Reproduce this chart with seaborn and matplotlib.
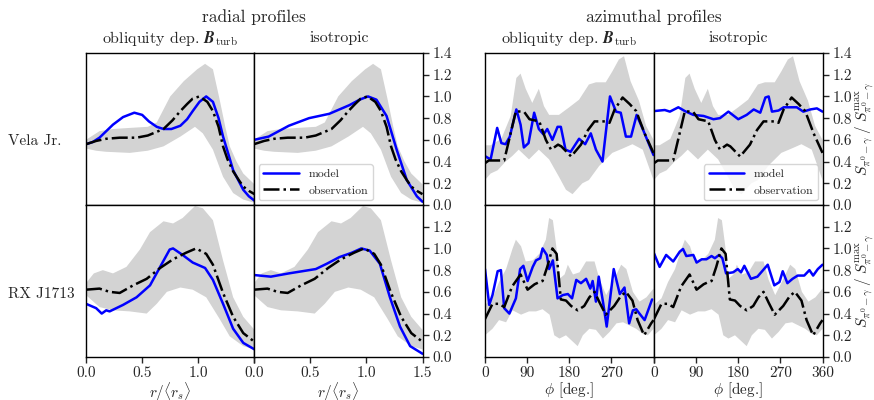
import matplotlib
matplotlib.use("Agg")
import matplotlib.pyplot as plt
import seaborn as sns

# ---- radial profiles, Vela Jr. ----
r_vela_obs = [0.0, 0.09, 0.18, 0.30, 0.45, 0.55, 0.62, 0.69, 0.77, 0.84, 0.90, 0.95, 1.01, 1.08, 1.13, 1.18, 1.22, 1.26, 1.31, 1.36, 1.40, 1.45, 1.50]
vela_obs = [0.56, 0.59, 0.61, 0.62, 0.62, 0.64, 0.67, 0.70, 0.78, 0.865, 0.93, 0.98, 1.0, 0.95, 0.865, 0.72, 0.54, 0.42, 0.31, 0.23, 0.17, 0.13, 0.10]
r_vela_hi = [0.0, 0.06, 0.12, 0.24, 0.39, 0.55, 0.63, 0.69, 0.75, 0.87, 0.99, 1.06, 1.13, 1.19, 1.24, 1.28, 1.34, 1.40, 1.50]
vela_hi = [0.60, 0.64, 0.68, 0.70, 0.71, 0.72, 0.76, 0.88, 1.00, 1.14, 1.25, 1.30, 1.25, 0.97, 0.72, 0.54, 0.40, 0.29, 0.19]
r_vela_lo = [0.0, 0.09, 0.18, 0.39, 0.55, 0.69, 0.84, 0.97, 1.04, 1.13, 1.22, 1.31, 1.40, 1.50]
vela_lo = [0.52, 0.50, 0.49, 0.48, 0.50, 0.54, 0.63, 0.72, 0.66, 0.51, 0.26, 0.11, 0.05, 0.02]
r_vela_obl = [0.0, 0.06, 0.12, 0.24, 0.33, 0.43, 0.50, 0.56, 0.63, 0.69, 0.76, 0.84, 0.90, 0.95, 1.01, 1.07, 1.13, 1.18, 1.22, 1.27, 1.31, 1.36, 1.40, 1.45, 1.50]
vela_obl = [0.56, 0.58, 0.62, 0.74, 0.81, 0.85, 0.83, 0.77, 0.72, 0.70, 0.70, 0.73, 0.79, 0.865, 0.95, 1.0, 0.95, 0.80, 0.63, 0.46, 0.32, 0.22, 0.14, 0.08, 0.04]
r_vela_iso = [0.0, 0.13, 0.22, 0.31, 0.49, 0.67, 0.85, 0.94, 1.015, 1.09, 1.18, 1.27, 1.36, 1.45, 1.50]
vela_iso = [0.60, 0.63, 0.68, 0.73, 0.80, 0.84, 0.92, 0.97, 1.0, 0.97, 0.82, 0.51, 0.23, 0.08, 0.03]

# ---- radial profiles, RX J1713 ----
r_rx_obs = [0.0, 0.12, 0.21, 0.30, 0.42, 0.54, 0.66, 0.775, 0.89, 0.98, 1.07, 1.13, 1.22, 1.31, 1.40, 1.50]
rx_obs = [0.62, 0.63, 0.60, 0.59, 0.66, 0.72, 0.82, 0.90, 0.96, 1.0, 0.95, 0.85, 0.59, 0.37, 0.22, 0.14]
r_rx_hi = [0.0, 0.07, 0.15, 0.24, 0.36, 0.48, 0.57, 0.69, 0.775, 0.86, 0.97, 1.04, 1.13, 1.22, 1.31, 1.40, 1.50]
rx_hi = [0.68, 0.77, 0.80, 0.77, 0.83, 0.99, 1.15, 1.25, 1.23, 1.28, 1.39, 1.37, 1.26, 0.89, 0.55, 0.37, 0.25]
r_rx_lo = [0.0, 0.12, 0.24, 0.39, 0.54, 0.63, 0.72, 0.84, 0.95, 1.07, 1.19, 1.28, 1.40, 1.50]
rx_lo = [0.57, 0.46, 0.43, 0.42, 0.40, 0.49, 0.60, 0.64, 0.62, 0.55, 0.35, 0.19, 0.10, 0.07]
r_rx_obl = [0.0, 0.09, 0.14, 0.18, 0.21, 0.33, 0.45, 0.57, 0.66, 0.745, 0.775, 0.86, 0.95, 1.06, 1.13, 1.22, 1.31, 1.40, 1.50]
rx_obl = [0.49, 0.45, 0.40, 0.43, 0.42, 0.48, 0.55, 0.66, 0.83, 0.99, 1.0, 0.94, 0.87, 0.82, 0.71, 0.49, 0.26, 0.13, 0.07]
r_rx_iso = [0.0, 0.15, 0.31, 0.55, 0.65, 0.76, 0.87, 0.955, 1.03, 1.12, 1.21, 1.30, 1.39, 1.50]
rx_iso = [0.755, 0.74, 0.77, 0.81, 0.86, 0.92, 0.96, 1.0, 0.98, 0.86, 0.55, 0.28, 0.10, 0.03]

# ---- azimuthal profiles, Vela Jr. ----
phi_vela_obs = [0, 8, 41, 66, 84, 95, 116, 130, 141, 156, 163, 184, 205, 220, 234, 259, 266, 277, 294, 309, 323, 341, 360]
az_vela_obs = [0.385, 0.41, 0.41, 0.865, 0.856, 0.79, 0.77, 0.60, 0.51, 0.556, 0.54, 0.447, 0.556, 0.69, 0.77, 0.77, 0.757, 0.88, 0.99, 0.93, 0.865, 0.66, 0.48]
phi_vela_hi = [0, 12, 35, 55, 67, 76, 87, 101, 115, 126, 137, 158, 180, 201, 222, 237, 258, 272, 286, 297, 311, 329, 344, 360]
az_vela_hi = [0.55, 0.55, 0.61, 0.82, 1.17, 1.21, 1.07, 0.94, 1.07, 0.91, 0.83, 0.83, 0.90, 0.97, 1.11, 1.13, 1.13, 1.23, 1.34, 1.37, 1.14, 0.96, 0.73, 0.60]
phi_vela_lo = [0, 12, 27, 44, 58, 72, 94, 115, 137, 158, 173, 187, 208, 222, 244, 272, 294, 315, 337, 360]
az_vela_lo = [0.23, 0.29, 0.32, 0.40, 0.45, 0.51, 0.42, 0.51, 0.42, 0.26, 0.14, 0.10, 0.20, 0.23, 0.36, 0.48, 0.52, 0.56, 0.51, 0.23]
phi_vela_obl = [0, 12, 26, 35, 44, 53, 67, 76, 83, 93, 105, 115, 125, 133, 144, 155, 162, 172, 183, 201, 214, 226, 237, 251, 267, 280, 290, 301, 312, 324, 337, 360]
az_vela_obl = [0.45, 0.42, 0.71, 0.57, 0.56, 0.63, 0.88, 0.74, 0.53, 0.57, 0.85, 0.70, 0.65, 0.70, 0.60, 0.72, 0.72, 0.51, 0.49, 0.61, 0.56, 0.66, 0.51, 0.40, 1.0, 0.86, 0.85, 0.63, 0.63, 0.83, 0.70, 0.46]
phi_vela_iso = [0, 23, 34, 52, 66, 84, 106, 127, 141, 159, 180, 198, 213, 227, 238, 245, 252, 266, 277, 305, 319, 334, 348, 360]
az_vela_iso = [0.865, 0.875, 0.86, 0.90, 0.865, 0.83, 0.82, 0.79, 0.80, 0.86, 0.79, 0.83, 0.88, 0.85, 0.99, 1.0, 0.86, 0.87, 0.90, 0.90, 0.86, 0.88, 0.89, 0.86]

# ---- azimuthal profiles, RX J1713 ----
phi_rx_obs = [0, 16, 30, 41, 58, 76, 91, 106, 116, 123, 133, 144, 153, 162, 173, 184, 198, 212, 223, 234, 245, 258, 276, 290, 301, 315, 326, 340, 355, 360]
az_rx_obs = [0.35, 0.49, 0.49, 0.46, 0.65, 0.76, 0.62, 0.67, 0.69, 0.70, 0.83, 1.0, 0.95, 0.53, 0.52, 0.47, 0.43, 0.47, 0.55, 0.60, 0.50, 0.39, 0.47, 0.56, 0.60, 0.52, 0.34, 0.20, 0.31, 0.34]
phi_rx_hi = [0, 16, 30, 45, 59, 66, 77, 87, 102, 116, 130, 137, 145, 152, 159, 170, 177, 188, 202, 216, 234, 245, 259, 273, 291, 302, 316, 330, 345, 360]
az_rx_hi = [0.48, 0.54, 0.69, 0.81, 1.0, 1.08, 1.02, 0.88, 0.89, 0.95, 1.08, 1.28, 1.26, 1.03, 0.72, 0.76, 0.85, 0.76, 0.78, 0.88, 0.88, 0.71, 0.57, 0.69, 0.85, 0.81, 0.60, 0.51, 0.55, 0.63]
phi_rx_lo = [0, 16, 30, 45, 59, 77, 94, 109, 123, 138, 148, 159, 173, 188, 198, 209, 223, 237, 252, 266, 281, 295, 309, 323, 338, 348, 360]
az_rx_lo = [0.20, 0.26, 0.34, 0.32, 0.43, 0.39, 0.42, 0.42, 0.44, 0.39, 0.20, 0.17, 0.20, 0.14, 0.10, 0.20, 0.26, 0.25, 0.17, 0.23, 0.31, 0.32, 0.29, 0.26, 0.21, 0.20, 0.26]
phi_rx_obl = [0, 9, 16, 27, 34, 41, 52, 66, 75, 82, 91, 102, 109, 118, 123, 132, 137, 145, 155, 166, 177, 186, 195, 205, 216, 225, 230, 237, 243, 252, 260, 275, 288, 298, 308, 316, 323, 330, 341, 357]
az_rx_obl = [0.81, 0.48, 0.57, 0.79, 0.80, 0.45, 0.40, 0.54, 0.81, 0.84, 0.70, 0.83, 0.89, 0.91, 1.0, 0.94, 0.81, 0.89, 0.54, 0.57, 0.58, 0.54, 0.71, 0.68, 0.72, 0.63, 0.70, 0.51, 0.74, 0.51, 0.28, 0.81, 0.58, 0.64, 0.31, 0.43, 0.44, 0.40, 0.34, 0.53]
phi_rx_iso = [0, 12, 26, 41, 55, 62, 69, 84, 91, 102, 112, 123, 130, 139, 146, 154, 169, 179, 186, 193, 207, 221, 243, 257, 268, 275, 285, 296, 307, 321, 332, 340, 350, 360]
az_rx_iso = [0.955, 0.83, 0.94, 0.88, 0.97, 0.995, 0.93, 0.94, 0.87, 0.90, 0.90, 0.93, 0.91, 0.94, 0.91, 0.77, 0.78, 0.81, 0.78, 0.84, 0.72, 0.74, 0.85, 0.66, 0.69, 0.79, 0.68, 0.72, 0.75, 0.75, 0.80, 0.75, 0.81, 0.85]

sns.set_style("ticks")
plt.rcParams['font.family'] = 'serif'
plt.rcParams['font.serif'] = ['cmr10']
plt.rcParams['mathtext.fontset'] = 'cm'
plt.rcParams['axes.formatter.use_mathtext'] = True
plt.rcParams['axes.unicode_minus'] = False

W, H = 874, 400
fig = plt.figure(figsize=(W / 100, H / 100), dpi=100)

col_left = [86, 254, 485, 654]
col_w = 168.5
row_top = [53, 205]
row_h = 152


def make_ax(c, r):
    return fig.add_axes([col_left[c] / W, 1 - (row_top[r] + row_h) / H, col_w / W, row_h / H])


def panel(ax, xhi, yhi, xlo, ylo, xo, yo, xm, ym, legend=None):
    ax.fill(list(xhi) + list(xlo)[::-1], list(yhi) + list(ylo)[::-1], color='lightgray', lw=0)
    sns.lineplot(x=xm, y=ym, ax=ax, color='blue', lw=1.8, label='model', sort=False)
    sns.lineplot(x=xo, y=yo, ax=ax, color='black', lw=1.8, linestyle='-.', label='observation', sort=False)
    if legend:
        h, l = ax.get_legend_handles_labels()
        ax.legend(h, l, loc=legend, fontsize=8.5, frameon=True, handlelength=3, borderaxespad=0.4)
    elif ax.get_legend() is not None:
        ax.get_legend().remove()
    ax.set_ylim(0, 1.4)
    ax.set_xlabel('')
    ax.set_ylabel('')
    for s in ax.spines.values():
        s.set_linewidth(1.0)
        s.set_color('black')


data = {
    (0, 0): (r_vela_hi, vela_hi, r_vela_lo, vela_lo, r_vela_obs, vela_obs, r_vela_obl, vela_obl, None),
    (1, 0): (r_vela_hi, vela_hi, r_vela_lo, vela_lo, r_vela_obs, vela_obs, r_vela_iso, vela_iso, 'lower left'),
    (0, 1): (r_rx_hi, rx_hi, r_rx_lo, rx_lo, r_rx_obs, rx_obs, r_rx_obl, rx_obl, None),
    (1, 1): (r_rx_hi, rx_hi, r_rx_lo, rx_lo, r_rx_obs, rx_obs, r_rx_iso, rx_iso, None),
    (2, 0): (phi_vela_hi, az_vela_hi, phi_vela_lo, az_vela_lo, phi_vela_obs, az_vela_obs, phi_vela_obl, az_vela_obl, None),
    (3, 0): (phi_vela_hi, az_vela_hi, phi_vela_lo, az_vela_lo, phi_vela_obs, az_vela_obs, phi_vela_iso, az_vela_iso, 'lower right'),
    (2, 1): (phi_rx_hi, az_rx_hi, phi_rx_lo, az_rx_lo, phi_rx_obs, az_rx_obs, phi_rx_obl, az_rx_obl, None),
    (3, 1): (phi_rx_hi, az_rx_hi, phi_rx_lo, az_rx_lo, phi_rx_obs, az_rx_obs, phi_rx_iso, az_rx_iso, None),
}

ylab = r'$S_{\pi^0-\gamma}\;/\;S^{\mathrm{max}}_{\pi^0-\gamma}$'

for (c, r), d in data.items():
    ax = make_ax(c, r)
    panel(ax, *d[:8], legend=d[8])
    radial = c < 2
    if radial:
        ax.set_xlim(0, 1.5)
        ax.set_xticks([0, 0.5, 1.0, 1.5])
    else:
        ax.set_xlim(0, 360)
        ax.set_xticks([0, 90, 180, 270, 360])
    if r == 1:
        if c % 2 == 0:
            lbls = ['0.0', '0.5', '1.0', ''] if radial else ['0', '90', '180', '270', '']
        else:
            lbls = ['0.0', '0.5', '1.0', '1.5'] if radial else ['0', '90', '180', '270', '360']
        ax.set_xticklabels(lbls)
        ax.tick_params(axis='x', direction='out', length=4, width=1, labelsize=11, pad=3)
        ax.set_xlabel(r'$r/\langle r_s\rangle$' if radial else r'$\phi$ [deg.]', fontsize=11, labelpad=0)
    else:
        ax.tick_params(axis='x', bottom=False, labelbottom=False)
    if c % 2 == 1:
        ax.yaxis.tick_right()
        ax.set_yticks([0, 0.2, 0.4, 0.6, 0.8, 1.0, 1.2, 1.4] if r == 0 else [0, 0.2, 0.4, 0.6, 0.8, 1.0, 1.2])
        ax.set_yticklabels(['%.1f' % v for v in ax.get_yticks()])
        ax.tick_params(axis='y', direction='out', length=4, width=1, labelsize=11, pad=3)
        if c == 3:
            ax.yaxis.set_label_position('right')
            ax.set_ylabel(ylab, fontsize=11, labelpad=1)
    else:
        ax.tick_params(axis='y', left=False, labelleft=False)
    ax.set_ylim(0, 1.4)

# group and column headings
fig.text(254 / W, 1 - 17 / H, 'radial profiles', ha='center', va='center', fontsize=12.5)
fig.text(654 / W, 1 - 17 / H, 'azimuthal profiles', ha='center', va='center', fontsize=12.5)
sub = r'obliquity dep. $\boldsymbol{B}_\mathrm{turb}$'
for cx, txt in [(170, sub), (339, 'isotropic'), (569, sub), (738, 'isotropic')]:
    fig.text(cx / W, 1 - 38 / H, txt, ha='center', va='center', fontsize=11.5)

fig.text(8 / W, 1 - 141 / H, 'Vela Jr.', ha='left', va='center', fontsize=11)
fig.text(8 / W, 1 - 294 / H, 'RX J1713', ha='left', va='center', fontsize=11)

fig.savefig('out.png', dpi=100)
